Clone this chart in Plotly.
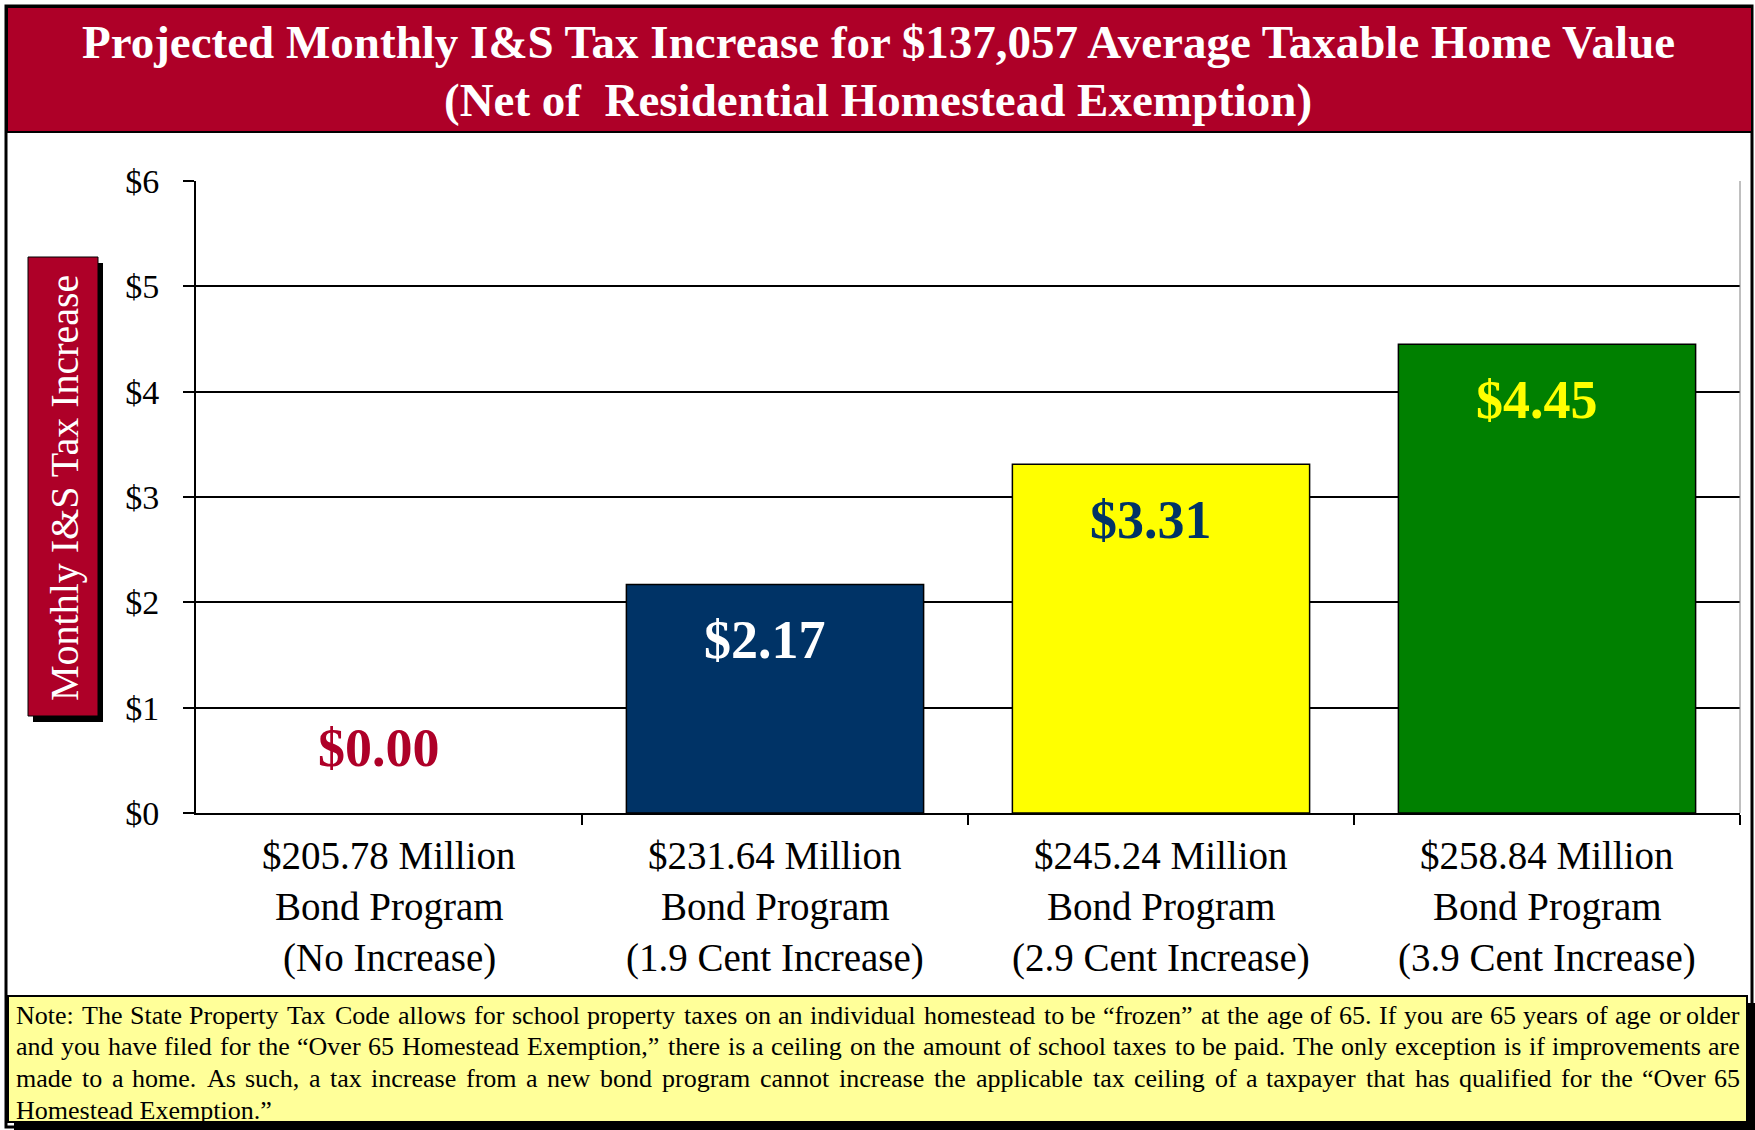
import plotly.graph_objects as go

# ---------------- data ----------------
categories = [0, 1, 2, 3]
values = [0.00, 2.17, 3.31, 4.45]
value_labels = ["$0.00", "$2.17", "$3.31", "$4.45"]
bar_colors = ["#FFFFFF", "#003366", "#FFFF00", "#008000"]
label_colors = ["#AE0028", "#FFFFFF", "#003366", "#FFFF00"]
x_label_lines = [
    ["$205.78 Million", "Bond Program", "(No Increase)"],
    ["$231.64 Million", "Bond Program", "(1.9 Cent Increase)"],
    ["$245.24 Million", "Bond Program", "(2.9 Cent Increase)"],
    ["$258.84 Million", "Bond Program", "(3.9 Cent Increase)"],
]
y_ticks = [0, 1, 2, 3, 4, 5, 6]
y_tick_text = ["$0", "$1", "$2", "$3", "$4", "$5", "$6"]
title_lines = [
    "Projected Monthly I&S Tax Increase for $137,057 Average Taxable Home Value",
    "(Net of  Residential Homestead Exemption)",
]
y_title = "Monthly I&S Tax Increase"
note_lines = [
    "Note: The State Property Tax Code allows for school property taxes on an individual homestead to be \u201cfrozen\u201d at the age of 65. If you are 65 years of age or older",
    "and you have filed for the \u201cOver 65 Homestead Exemption,\u201d there is a ceiling on the amount of school taxes to be paid. The only exception is if improvements are",
    "made to a home. As such, a tax increase from a new bond program cannot increase the applicable tax ceiling of a taxpayer that has qualified for the \u201cOver 65",
    "Homestead Exemption.\u201d",
]

# ---------------- layout geometry ----------------
W, H = 1755, 1130
ML, MR, MT, MB = 196, 15, 181, 317
PW, PH = W - ML - MR, H - MT - MB
FONT = "Liberation Serif"
RED = "#AE0028"


def xp(px):
    return (px - ML) / PW


def yp(py):
    return (H - MB - py) / PH


# Times-compatible advance widths (1/1000 em) for text justification
TW = {' ': 250, 'a': 444, 'b': 500, 'c': 444, 'd': 500, 'e': 444, 'f': 333, 'g': 500, 'h': 500,
      'i': 278, 'j': 278, 'k': 500, 'l': 278, 'm': 778, 'n': 500, 'o': 500, 'p': 500, 'q': 500,
      'r': 333, 's': 389, 't': 278, 'u': 500, 'v': 500, 'w': 722, 'x': 500, 'y': 500, 'z': 444,
      'A': 722, 'B': 667, 'C': 667, 'D': 722, 'E': 611, 'F': 556, 'G': 722, 'H': 722, 'I': 333,
      'J': 389, 'K': 722, 'L': 611, 'M': 889, 'N': 722, 'O': 722, 'P': 556, 'Q': 722, 'R': 667,
      'S': 556, 'T': 611, 'U': 722, 'V': 722, 'W': 944, 'X': 722, 'Y': 722, 'Z': 611,
      '.': 250, ',': 250, ':': 278, ';': 278, '\u201c': 444, '\u201d': 444, '$': 500, '&': 778,
      '(': 333, ')': 333, '-': 333}


def em_width(s):
    return 1.01 * sum(TW.get(ch, 500) for ch in s) / 1000.0


fig = go.Figure()
fig.add_trace(go.Bar(
    x=categories, y=values, width=0.77,
    marker=dict(color=bar_colors,
                line=dict(color="#000000", width=[1.5 if v > 0 else 0 for v in values])),
    hoverinfo="skip", showlegend=False,
))

shapes = []
annotations = []

# outer frame
shapes.append(dict(type="rect", xref="paper", yref="paper", x0=xp(6), x1=xp(1752), y0=yp(1127), y1=yp(6),
                   line=dict(color="#000000", width=3), fillcolor="rgba(0,0,0,0)", layer="below"))
# title banner
shapes.append(dict(type="rect", xref="paper", yref="paper", x0=xp(7), x1=xp(1752), y0=yp(132), y1=yp(7),
                   line=dict(color="#000000", width=2), fillcolor=RED, layer="below"))
for i, t in enumerate(title_lines):
    annotations.append(dict(text="<b>" + t + "</b>", xref="paper", yref="paper", x=xp(878), y=yp([42, 100][i]),
                            showarrow=False, xanchor="center", yanchor="middle",
                            font=dict(family=FONT, size=47, color="#FFFFFF")))

# y-axis title box with shadow
shapes.append(dict(type="rect", xref="paper", yref="paper", x0=xp(33), x1=xp(103), y0=yp(722), y1=yp(263),
                   line=dict(width=0), fillcolor="#000000", layer="below"))
shapes.append(dict(type="rect", xref="paper", yref="paper", x0=xp(28), x1=xp(98), y0=yp(716), y1=yp(257),
                   line=dict(color="#000000", width=1), fillcolor=RED, layer="below"))
annotations.append(dict(text=y_title, xref="paper", yref="paper", x=xp(64), y=yp(488), textangle=-90,
                        showarrow=False, xanchor="center", yanchor="middle",
                        font=dict(family=FONT, size=40, color="#FFFFFF")))

# note box with shadow
shapes.append(dict(type="rect", xref="paper", yref="paper", x0=xp(14), x1=xp(1755), y0=yp(1130), y1=yp(1003),
                   line=dict(width=0), fillcolor="#000000", layer="below"))
shapes.append(dict(type="rect", xref="paper", yref="paper", x0=xp(8), x1=xp(1747), y0=yp(1122), y1=yp(996),
                   line=dict(color="#000000", width=2), fillcolor="#FFFF99", layer="below"))

NOTE_L, NOTE_R = 15, 1741
avail = NOTE_R - NOTE_L
note_font = min(27.0, 0.99 * min(avail / em_width(t) for t in note_lines[:-1]))
for i, t in enumerate(note_lines):
    y_line = yp(1015 + 31.7 * i)
    words = t.split(" ")
    if i < len(note_lines) - 1:
        wsum = sum(em_width(w) for w in words) * note_font
        gap = (avail - wsum) / (len(words) - 1)
        xpos = NOTE_L
        for k, w in enumerate(words):
            last = k == len(words) - 1
            annotations.append(dict(text=w, xref="paper", yref="paper",
                                    x=xp(NOTE_R if last else xpos), y=y_line,
                                    showarrow=False, xanchor="right" if last else "left",
                                    yanchor="middle", borderpad=0,
                                    font=dict(family=FONT, size=note_font, color="#000000")))
            xpos += em_width(w) * note_font + gap
    else:
        annotations.append(dict(text=t, xref="paper", yref="paper", x=xp(NOTE_L), y=y_line,
                                showarrow=False, xanchor="left", yanchor="middle", borderpad=0,
                                font=dict(family=FONT, size=note_font, color="#000000")))

# plot area right border
shapes.append(dict(type="line", xref="paper", yref="paper", x0=1, x1=1, y0=0, y1=1,
                   line=dict(color="#808080", width=1)))

# x category labels
for c, lines in zip(categories, x_label_lines):
    for j, t in enumerate(lines):
        annotations.append(dict(text=t, x=c, xref="x", yref="paper", y=yp(855 + 51.5 * j),
                                showarrow=False, xanchor="center", yanchor="middle",
                                font=dict(family=FONT, size=39, color="#000000")))

# value labels
for c, v, t, col in zip(categories, values, value_labels, label_colors):
    annotations.append(dict(text="<b>" + t + "</b>", x=c, y=v, xref="x", yref="y",
                            yshift=(65 if v == 0 else -56), xshift=-10, showarrow=False,
                            xanchor="center", yanchor="middle",
                            font=dict(family=FONT, size=54, color=col)))

fig.update_layout(
    width=W, height=H,
    margin=dict(l=ML, r=MR, t=MT, b=MB),
    paper_bgcolor="#FFFFFF", plot_bgcolor="#FFFFFF",
    shapes=shapes, annotations=annotations,
    xaxis=dict(range=[-0.5, 3.5], tickvals=[0.5, 1.5, 2.5, 3.5], ticktext=["", "", "", ""],
               ticks="outside", ticklen=10, tickwidth=1.5, tickcolor="#000000",
               showgrid=False, zeroline=False, showline=True, linecolor="#000000", linewidth=2,
               fixedrange=True),
    yaxis=dict(range=[0, 6], tickvals=y_ticks, ticktext=y_tick_text,
               ticks="outside", ticklen=11, tickwidth=1.5, tickcolor="#000000",
               showgrid=True, gridcolor="#000000", gridwidth=1.5,
               zeroline=False, showline=True, linecolor="#000000", linewidth=2,
               tickfont=dict(family=FONT, size=34, color="#000000"), ticklabelstandoff=17,
               fixedrange=True),
)

fig.write_html("out.html", config={"displayModeBar": False},
               post_script="document.body.style.margin='0px';document.body.style.overflow='hidden';")
